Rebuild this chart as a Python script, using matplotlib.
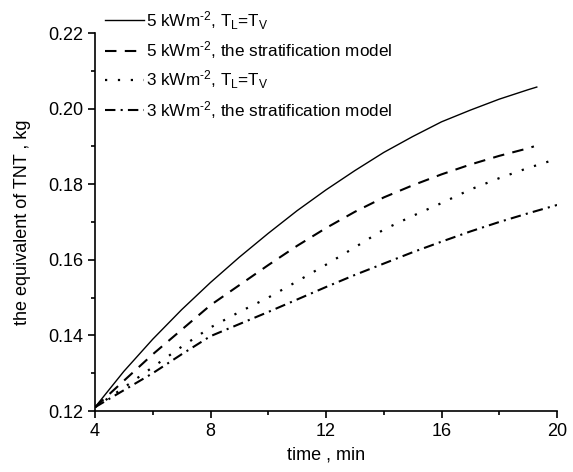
import matplotlib
matplotlib.use("Agg")
import matplotlib.pyplot as plt
from matplotlib.ticker import MultipleLocator, FormatStrFormatter

plt.rcParams['font.family'] = ['Liberation Sans', 'DejaVu Sans']
plt.rcParams['mathtext.fontset'] = 'custom'
plt.rcParams['mathtext.rm'] = 'Liberation Sans'
plt.rcParams['mathtext.it'] = 'Liberation Sans'
plt.rcParams['mathtext.default'] = 'regular'

# data
t_5_eq = [4, 5, 6, 7, 8, 9, 10, 11, 12, 13, 14, 15, 16, 17, 18, 19, 19.3]
m_5_eq = [0.121, 0.1305, 0.139, 0.1468, 0.154, 0.1607, 0.167, 0.173, 0.1785,
          0.1836, 0.1884, 0.1926, 0.1965, 0.1996, 0.2025, 0.2050, 0.2057]
t_5_st = [4, 5, 6, 7, 8, 9, 10, 11, 12, 13, 14, 15, 16, 17, 18, 19, 19.2]
m_5_st = [0.121, 0.128, 0.135, 0.1415, 0.148, 0.1533, 0.1586, 0.1637, 0.1684,
          0.1727, 0.1765, 0.1797, 0.1826, 0.1852, 0.1875, 0.1895, 0.190]
t_3_eq = [4, 5, 6, 7, 8, 9, 10, 11, 12, 13, 14, 15, 16, 17, 18, 19, 20]
m_3_eq = [0.121, 0.1262, 0.1316, 0.137, 0.1421, 0.1462, 0.1500, 0.1543, 0.1587,
          0.1633, 0.1680, 0.1716, 0.1750, 0.1786, 0.1816, 0.1843, 0.1867]
t_3_st = [4, 5, 6, 7, 8, 9, 10, 11, 12, 13, 14, 15, 16, 17, 18, 19, 20]
m_3_st = [0.121, 0.1255, 0.130, 0.135, 0.1398, 0.1430, 0.1462, 0.1495, 0.1528,
          0.156, 0.159, 0.162, 0.1648, 0.1675, 0.170, 0.1723, 0.1745]

labels = [r'5 kWm$^{\text{-}2}$, T$_L$=T$_V$',
          r'5 kWm$^{\text{-}2}$, the stratification model',
          r'3 kWm$^{\text{-}2}$, T$_L$=T$_V$',
          r'3 kWm$^{\text{-}2}$, the stratification model']

fig = plt.figure(figsize=(5.73, 4.72), dpi=100)
ax = fig.add_axes([95/573, 1-411/472, (557-95)/573, (411-33)/472])

ax.plot(t_5_eq, m_5_eq, color='black', lw=1.0, ls='-', label=labels[0])
ax.plot(t_5_st, m_5_st, color='black', lw=1.5, ls=(0, (5.5, 4)), label=labels[1])
ax.plot(t_3_eq, m_3_eq, color='black', lw=1.6, ls=(0, (1, 4.8)), label=labels[2])
ax.plot(t_3_st, m_3_st, color='black', lw=1.5, ls=(0, (5, 2.5, 1, 2.5)), label=labels[3])

ax.set_xlim(4, 20)
ax.set_ylim(0.12, 0.22)
ax.xaxis.set_major_locator(MultipleLocator(4))
ax.xaxis.set_minor_locator(MultipleLocator(2))
ax.yaxis.set_major_locator(MultipleLocator(0.02))
ax.yaxis.set_minor_locator(MultipleLocator(0.01))
ax.yaxis.set_major_formatter(FormatStrFormatter('%.2f'))

for s in ['top', 'right']:
    ax.spines[s].set_visible(False)
for s in ['left', 'bottom']:
    ax.spines[s].set_linewidth(1.2)
ax.tick_params(which='major', direction='out', length=5, width=1.2, labelsize=13)
ax.tick_params(which='minor', direction='out', length=3, width=1.2)

ax.set_xlabel('time , min', fontsize=13, labelpad=5)
ax.set_ylabel('the equivalent of TNT , kg', fontsize=13, labelpad=12)

leg = ax.legend(loc='upper left', bbox_to_anchor=(105/573, 1-9/472),
                bbox_transform=fig.transFigure, frameon=False, fontsize=12.3,
                handlelength=2.3, handletextpad=0.08, labelspacing=0.45,
                borderpad=0, borderaxespad=0)

fig.savefig('out.png', dpi=100)
